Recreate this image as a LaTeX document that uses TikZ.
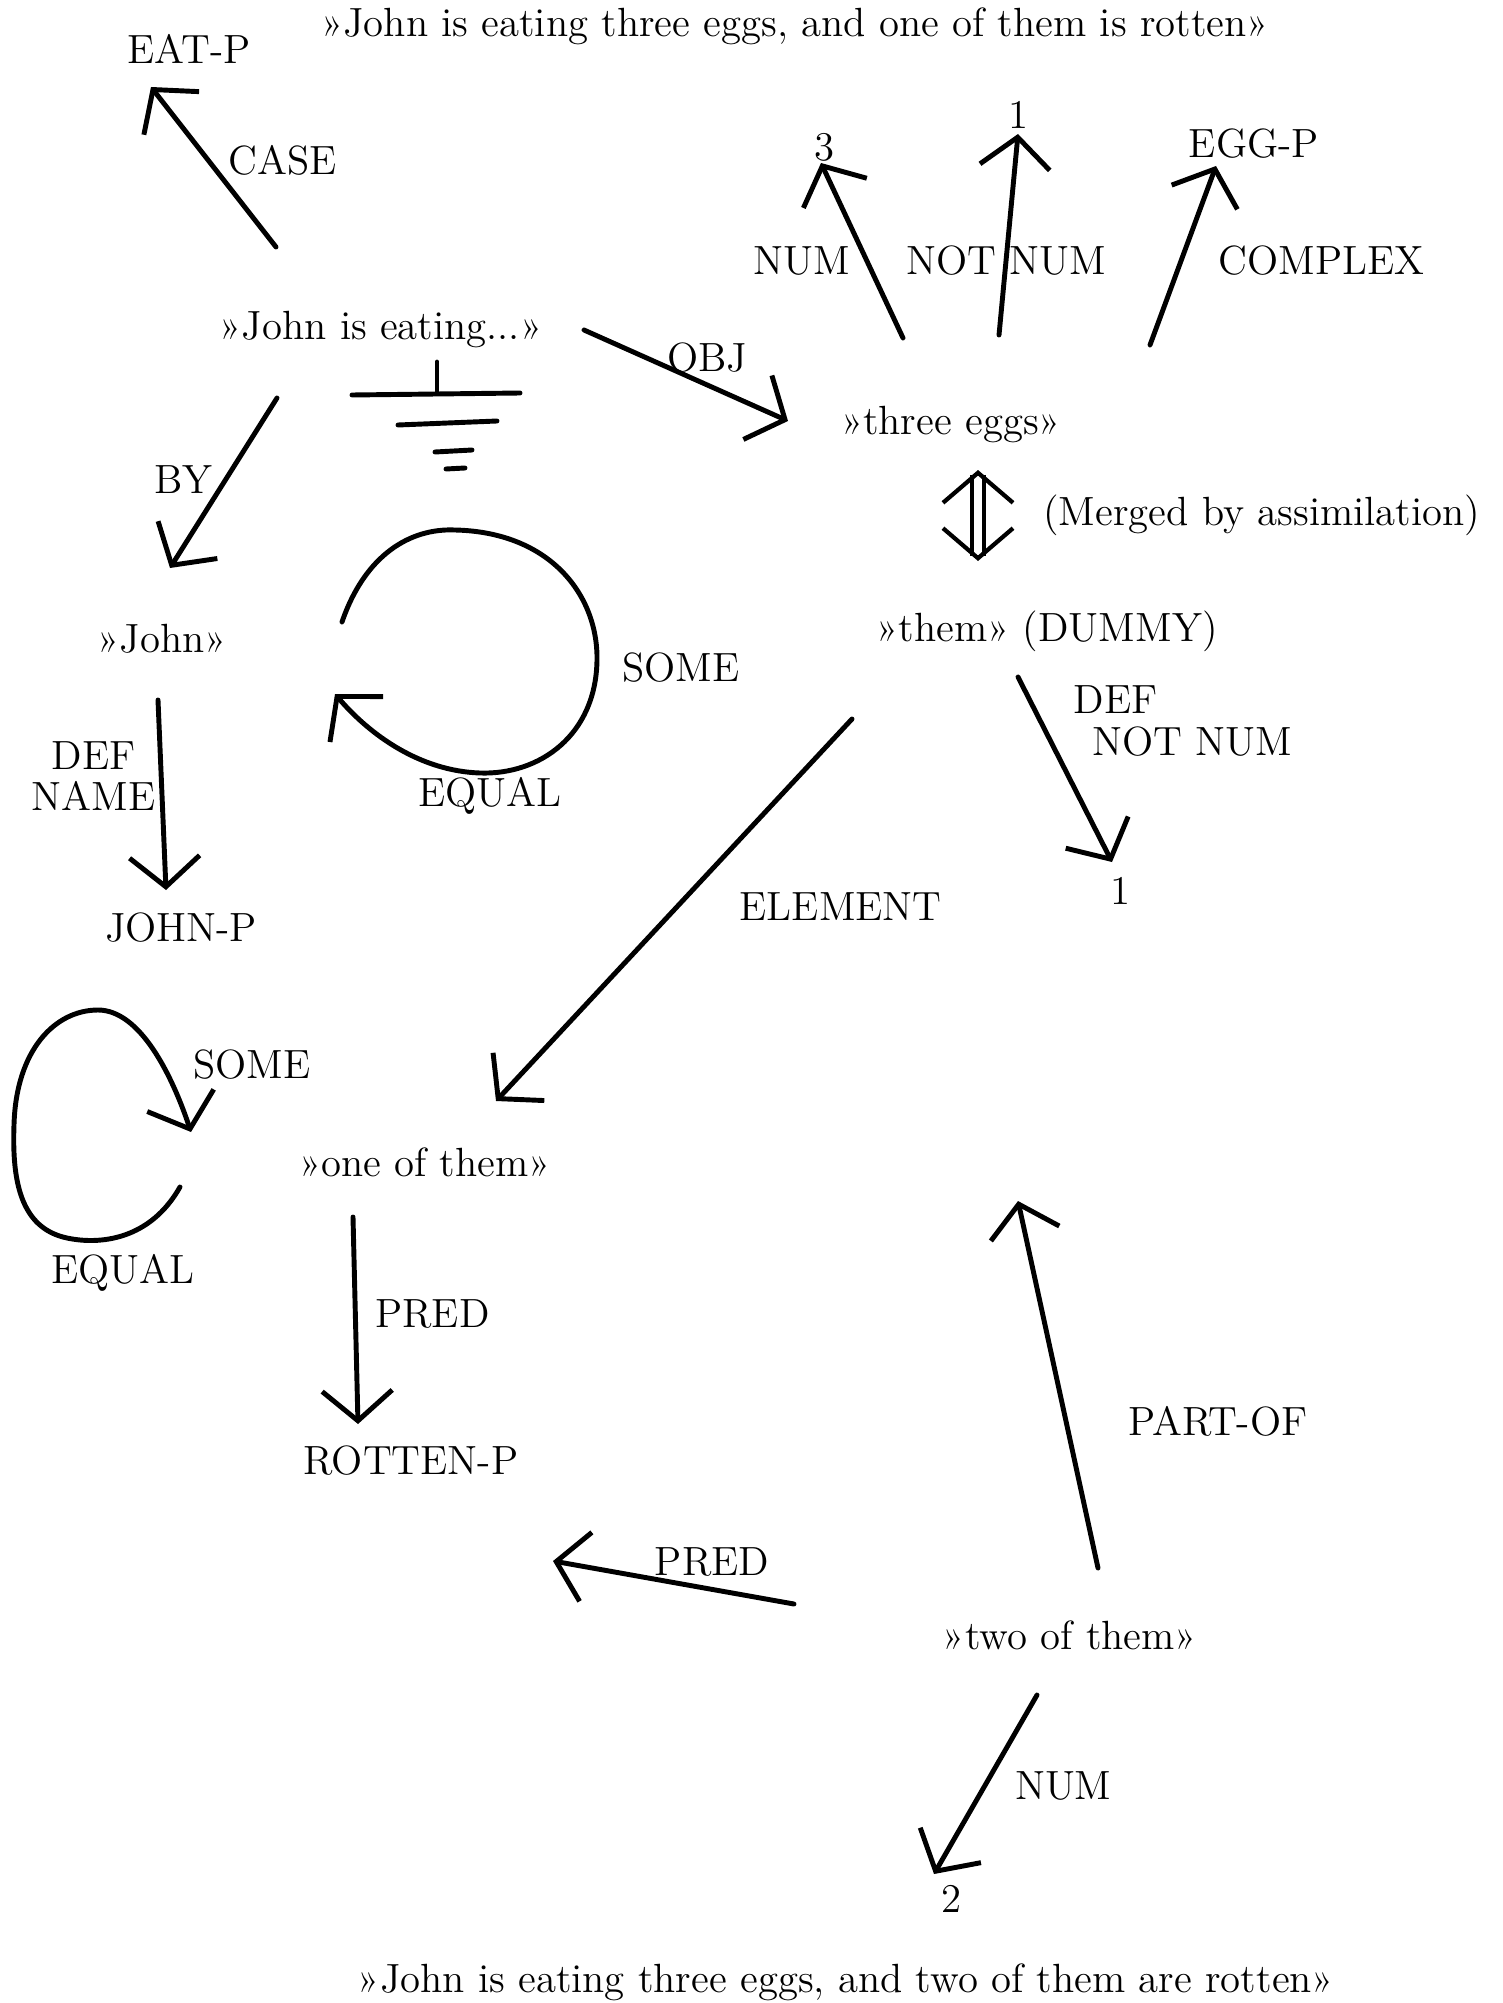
\documentclass[tikz,border=0pt]{standalone}
\usepackage{fontspec}
\usetikzlibrary{arrows.meta,positioning}
\tikzset{
  >={Straight Barb[length=3mm,width=7mm]},
  txt/.style ={inner sep=1pt,font=\fontsize{11.6}{11.6}\selectfont},
  lbl/.style ={txt},
  ar/.style  ={->,line width=1.4pt,line cap=round,line join=round},
  dbl/.style ={<->,double,double distance=2pt,line width=1.2pt},
  stroke/.style={line width=1.4pt,line cap=round},
}
\begin{document}
\begin{tikzpicture}[x=0.01cm,y=-0.01cm]
\useasboundingbox (0,0) rectangle (1502,2003);
% sentence nodes
\node[txt] (top)    at (795,26)   {»John is eating three eggs, and one of them is rotten»};
\node[txt] (eating) at (381,330)  {»John is eating...»};
\node[txt] (eggs)   at (951,425)  {»three eggs»};
\node[txt] (them)   at (1047,631) {»them» (DUMMY)};
\node[txt] (john)   at (162,639)  {»John»};
\node[txt] (oneof)  at (425,1162) {»one of them»};
\node[txt] (twoof)  at (1070,1635){»two of them»};
\node[txt] (bot)    at (846,1982) {»John is eating three eggs, and two of them are rotten»};
% concepts and numbers
\node[txt] (eatp)   at (189,49)   {EAT-P};
\node[txt] (three)  at (824,147)  {3};
\node[txt] (onea)   at (1018,115) {1};
\node[txt] (eggp)   at (1254,144) {EGG-P};
\node[txt] (oneb)   at (1120,891) {1};
\node[txt] (johnp)  at (181,928)  {JOHN-P};
\node[txt] (rotten) at (411,1461) {ROTTEN-P};
\node[txt] (two)    at (951,1899) {2};
\coordinate (partof) at (1018,1201);
% ground sign under the main clause
\coordinate (gnd) at (437,362);
\draw[stroke] (gnd) -- ++(0,31);
\draw[stroke] (352,395) -- (520,393);
\draw[stroke] (398,425) -- (497,421);
\draw[stroke] (435,452) -- (472,450);
\draw[stroke] (446,469) -- (465,468);
% main clause
\draw[ar] ([shift={(-105,-83)}]eating.center) -- node[lbl,pos=.54,right=4pt]{CASE} ([shift={(-38,38)}]eatp.center);
\draw[ar] ([shift={(203,0)}]eating.center) -- node[lbl,pos=.38,anchor=south west,yshift=-4pt]{OBJ} ([shift={(-163,-4)}]eggs.center);
\draw[ar] ([shift={(-104,68)}]eating.center) -- node[lbl,pos=.48,left=2pt]{BY} ([shift={(8,-71)}]john.center);
\draw[ar] ([shift={(-4,61)}]john.center) -- node[lbl,pos=.4,left,align=center]{DEF\\NAME} ([shift={(-15,-38)}]johnp.center);
% three eggs
\draw[ar] ([shift={(-48,-87)}]eggs.center) -- node[lbl,pos=.44,left=3pt]{NUM} ([shift={(-3,16)}]three.center);
\draw[ar] ([shift={(48,-90)}]eggs.center) -- node[lbl,pos=.37]{NOT NUM} ([shift={(0,19)}]onea.center);
\draw[ar] ([shift={(199,-80)}]eggs.center) -- node[lbl,pos=.47,right=9pt]{COMPLEX} ([shift={(-38,22)}]eggp.center);
\draw[dbl] ([shift={(27,45)}]eggs.center) -- node[lbl,right=17pt]{(Merged by assimilation)} ([shift={(-69,-70)}]them.center);
% them
\draw[ar] ([shift={(-29,46)}]them.center) -- node[lbl,pos=.12,right=11pt]{DEF} node[lbl,pos=.35,right=10pt]{NOT NUM} ([shift={(-8,-29)}]oneb.center);
\draw[ar] ([shift={(-195,88)}]them.center) -- node[lbl,pos=.49,right=16pt]{ELEMENT} ([shift={(71,-61)}]oneof.center);
% one of them
\draw[ar] ([shift={(-72,55)}]oneof.center) -- node[lbl,pos=.47,right=4pt]{PRED} ([shift={(-53,-37)}]rotten.center);
% two of them
\draw[ar] ([shift={(-276,-31)}]twoof.center) -- node[lbl,pos=.34,above=2pt]{PRED} ([shift={(142,100)}]rotten.center);
\draw[ar] ([shift={(28,-67)}]twoof.center) -- node[lbl,pos=.4,right=16pt]{PART-OF} (partof);
\draw[ar] ([shift={(-33,60)}]twoof.center) -- node[lbl,pos=.51,right=7pt]{NUM} ([shift={(-17,-25)}]two.center);
% SOME / EQUAL loops
\draw[ar] (342,622) .. controls (365,555) and (410,528) .. (455,530)
  .. controls (550,532) and (598,595) .. (597,660)
  .. controls (596,735) and (540,775) .. (480,773)
  .. controls (420,771) and (370,735) .. (335,694);
\node[lbl] (somea)  at (681,668) {SOME};
\node[lbl] (equala) at (490,796) {EQUAL};
\draw[ar] (180,1187) .. controls (150,1240) and (100,1245) .. (67,1238)
  .. controls (20,1228) and (12,1180) .. (14,1125)
  .. controls (16,1050) and (55,1010) .. (98,1010)
  .. controls (140,1010) and (172,1075) .. (191,1132);
\node[lbl] (someb)  at (252,1065) {SOME};
\node[lbl] (equalb) at (123,1273) {EQUAL};
\end{tikzpicture}
\end{document}
